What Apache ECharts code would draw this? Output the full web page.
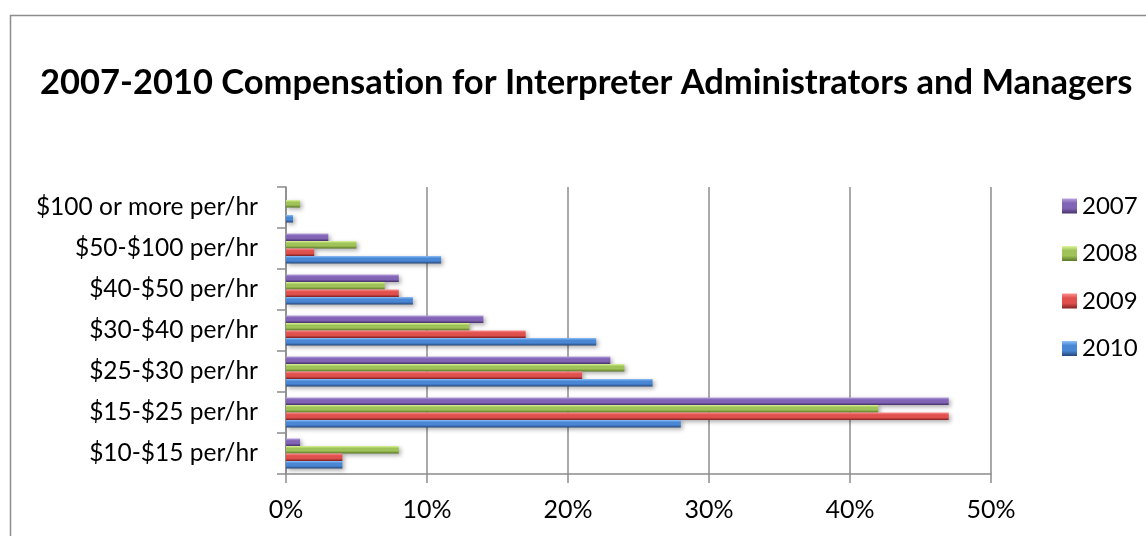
<!DOCTYPE html>
<html>
<head>
<meta charset="utf-8">
<title>2007-2010 Compensation for Interpreter Administrators and Managers</title>
<script src="https://cdn.jsdelivr.net/npm/echarts@6/dist/echarts.min.js"></script>
<style>
  html, body { margin: 0; padding: 0; background: #ffffff; }
  #chart { width: 1146px; height: 536px; }
</style>
</head>
<body>
<div id="chart"></div>
<script>
// Pay bands, listed bottom to top along the category axis
const categories = [
  '$10-$15 per/hr',
  '$15-$25 per/hr',
  '$25-$30 per/hr',
  '$30-$40 per/hr',
  '$40-$50 per/hr',
  '$50-$100 per/hr',
  '$100 or more per/hr'
];

// Share of respondents (%) in each band, per survey year
const years = ['2007', '2008', '2009', '2010'];
const values2007 = [1, 47, 23, 14, 8, 3, 0];
const values2008 = [8, 42, 24, 13, 7, 5, 1];
const values2009 = [4, 47, 21, 17, 8, 2, 0];
const values2010 = [4, 28, 26, 22, 9, 11, 0.5];

const xTicks = { min: 0, max: 50, interval: 10 };

const FONT = 'Lato, "Open Sans", sans-serif';
// The "t" sits in its own rich-text run so the font's "ti" ligature is not applied
const TITLE = '2007-2010 Compensa{t|t}ion for Interpreter Administrators and Managers';
const TITLE_STYLE = { fontFamily: FONT, fontWeight: 'bold', fontSize: 34.5, color: '#000000' };

// Bevelled look: light top edge, solid body, dark lower edge
function bevel(light, mid, dark) {
  return new echarts.graphic.LinearGradient(0, 0, 0, 1, [
    { offset: 0, color: light },
    { offset: 0.3, color: mid },
    { offset: 0.65, color: mid },
    { offset: 1, color: dark }
  ]);
}

const palette = {
  '2007': bevel('#b9a2de', '#8164b5', '#48326c'),
  '2008': bevel('#dcf59a', '#9fc358', '#5a7624'),
  '2009': bevel('#ff9090', '#e0504d', '#822222'),
  '2010': bevel('#8cc0f8', '#4987d4', '#25467a')
};

const seriesValues = {
  '2007': values2007,
  '2008': values2008,
  '2009': values2009,
  '2010': values2010
};

const chart = echarts.init(document.getElementById('chart'), null, { renderer: 'canvas' });

const series = years.map(function (y) {
  return {
    name: y,
    type: 'bar',
    data: seriesValues[y],
    barWidth: 7.5,
    barGap: '0%',
    itemStyle: {
      color: palette[y],
      shadowColor: 'rgba(0,0,0,0.32)',
      shadowBlur: 4,
      shadowOffsetX: 2,
      shadowOffsetY: 2
    },
    emphasis: { disabled: true }
  };
});

chart.setOption({
  animation: false,
  backgroundColor: '#ffffff',
  graphic: [{
    type: 'rect',
    left: 8,
    top: 13,
    shape: { width: 1300, height: 700 },
    style: { fill: 'none', stroke: '#8c8c8c', lineWidth: 1.5 },
    silent: true,
    z: -1
  }],
  title: {
    text: TITLE,
    left: 40,
    top: 65,
    padding: 0,
    textStyle: Object.assign({ rich: { t: TITLE_STYLE } }, TITLE_STYLE)
  },
  legend: {
    data: years,
    orient: 'vertical',
    left: 1057,
    top: 189,
    itemWidth: 15,
    itemHeight: 15,
    itemGap: 23.5,
    icon: 'rect',
    textStyle: { fontFamily: FONT, fontSize: 24, color: '#000000', padding: [0, 0, 0, 0] }
  },
  grid: { left: 286, right: 155, top: 187, bottom: 62, containLabel: false },
  xAxis: {
    type: 'value',
    min: xTicks.min,
    max: xTicks.max,
    interval: xTicks.interval,
    axisLine: { show: true, lineStyle: { color: '#8c8c8c', width: 1.5 } },
    axisTick: { show: true, length: 9, lineStyle: { color: '#8c8c8c', width: 1.5 } },
    splitLine: { show: true, lineStyle: { color: '#8c8c8c', width: 1.5 } },
    axisLabel: {
      formatter: '{value}%',
      margin: 23,
      fontFamily: FONT,
      fontSize: 25,
      color: '#000000'
    }
  },
  yAxis: {
    type: 'category',
    data: categories,
    axisLine: { show: true, lineStyle: { color: '#8c8c8c', width: 1.5 } },
    axisTick: { show: true, length: 9, alignWithLabel: false, lineStyle: { color: '#8c8c8c', width: 1.5 } },
    splitLine: { show: false },
    axisLabel: {
      margin: 28,
      fontFamily: FONT,
      fontSize: 24.5,
      color: '#000000'
    }
  },
  series: series
});
</script>
</body>
</html>
